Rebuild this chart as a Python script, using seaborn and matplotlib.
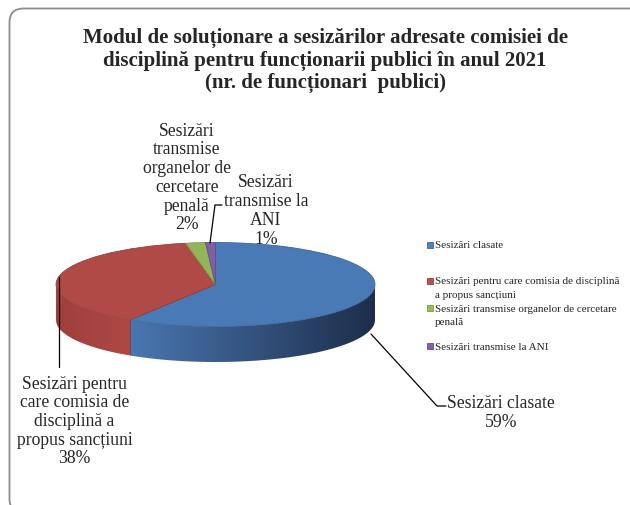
import numpy as np
import matplotlib
matplotlib.use("Agg")
import matplotlib.pyplot as plt
import seaborn as sns
from matplotlib.patches import Polygon, FancyBboxPatch, Rectangle
from matplotlib.lines import Line2D
from matplotlib.transforms import IdentityTransform
from matplotlib.colors import to_rgb

sns.set_theme(style="white")
plt.rcParams['font.family'] = ['Liberation Serif', 'DejaVu Serif']

W, H = 630, 506

# data
categories = [
    "Sesizări clasate",
    "Sesizări pentru care comisia de disciplină a propus sancțiuni",
    "Sesizări transmise organelor de cercetare penală",
    "Sesizări transmise la ANI",
]
shares = [59, 38, 2, 1]
slice_names = [
    "Sesizări clasate",
    "Sesizări pentru\ncare comisia de\ndisciplină a\npropus sancțiuni",
    "Sesizări\ntransmise\norganelor de\ncercetare\npenală",
    "Sesizări\ntransmise la\nANI",
]
legend_lines = [
    ["Sesizări clasate"],
    ["Sesizări pentru care comisia de disciplină", "a propus sancțiuni"],
    ["Sesizări transmise organelor de cercetare", "penală"],
    ["Sesizări transmise la ANI"],
]
title = ("Modul de soluționare a sesizărilor adresate comisiei de\n"
         "disciplină pentru funcționarii publici în anul 2021\n"
         "(nr. de funcționari  publici)")

top_colors = ["#4a7ab5", "#b04a47", "#93b558", "#7c60a1"]
edge_colors = ["#3d6699", "#943c3a", "#7a9a46", "#654d86"]
legend_colors = ["#4f81bd", "#c0504d", "#9bbb59", "#8064a2"]
side_ramps = [("#4a77b1", "#1d2e4a"), ("#9e403d", "#ae4845"),
              ("#7a9a46", "#7a9a46"), ("#654d86", "#654d86")]


def fx(x):
    return x / W


def fy(y):
    return 1 - y / H


fig = plt.figure(figsize=(W / 100, H / 100), dpi=100)

# rounded frame
frame = FancyBboxPatch((9.5, -8), 650, 504.5,
                       boxstyle="round,pad=0,rounding_size=14",
                       transform=IdentityTransform(), facecolor="none",
                       edgecolor="#8c8c8c", linewidth=1.3)
fig.add_artist(frame)

fig.text(fx(325), fy(60.5), title, ha="center", va="center",
         fontsize=15, fontweight="bold", linespacing=1.18)

# pie (3D look: flattened top + shaded side)
left, right, top, bottom = 56, 375, 243.5, 363
ry, depth = 42.0, 35.5
d = depth / ry
ax = fig.add_axes([fx(left), fy(bottom), (right - left) / W, (bottom - top) / H])
wedges, _ = ax.pie(shares, colors=top_colors, startangle=90, counterclock=False,
                   radius=1, wedgeprops=dict(linewidth=0.6))
for w, ec in zip(wedges, edge_colors):
    w.set_edgecolor(ec)
    w.set_clip_on(False)
    w.set_zorder(3)
ax.set_aspect("auto")
ax.set_xlim(-1, 1)
ax.set_ylim(-1 - d, 1)
ax.axis("off")

for i, w in enumerate(wedges):
    ts = np.radians(np.linspace(w.theta1, w.theta2, 400))
    ts = ts[np.sin(ts) <= 1e-9]
    if len(ts) < 2:
        continue
    xs, ys = np.cos(ts), np.sin(ts)
    pts = np.vstack([np.column_stack([xs, ys]),
                     np.column_stack([xs[::-1], ys[::-1] - d])])
    poly = Polygon(pts, closed=True, facecolor="none", edgecolor="none")
    ax.add_patch(poly)
    x0, x1 = xs.min(), xs.max()
    c0, c1 = np.array(to_rgb(side_ramps[i][0])), np.array(to_rgb(side_ramps[i][1]))
    t = np.linspace(0, 1, 256)[:, None]
    grad = (c0 + (c1 - c0) * t)[None, :, :]
    im = ax.imshow(grad, extent=[x0, x1, -1 - d, 0], aspect="auto",
                   interpolation="bilinear", zorder=2)
    im.set_clip_path(poly)

ax.set_xlim(-1, 1)
ax.set_ylim(-1 - d, 1)

# boundary between blue and red side
xb = np.cos(np.radians(wedges[0].theta1))
yb = np.sin(np.radians(wedges[0].theta1))
ax.plot([xb, xb], [yb, yb - d], color="#7a3330", lw=0.5, zorder=2.5, clip_on=False)

# data labels
lab_font = 12.7
label_pos = [(501, 413), (74.5, 421.5), (187, 178), (266, 211)]
for name, val, (x, y) in zip(slice_names, shares, label_pos):
    fig.text(fx(x), fy(y), f"{name}\n{val}%", ha="center", va="center",
             fontsize=lab_font, linespacing=1.13)

leaders = [
    ([371, 437, 446], [335, 407, 407]),
    ([59, 59], [278, 368]),
    ([210, 215, 222], [244, 206, 206]),
]
for xs, ys in leaders:
    fig.add_artist(Line2D([fx(v) for v in xs], [fy(v) for v in ys],
                          transform=fig.transFigure, color="black", lw=0.9))

# legend
legend_y = [246, 282, 309, 347]
for lines, col, ec, y in zip(legend_lines, legend_colors, edge_colors, legend_y):
    fig.add_artist(Rectangle((fx(427), fy(y + 3)), 6 / W, 6 / H,
                             transform=fig.transFigure, facecolor=col,
                             edgecolor=ec, linewidth=0.6))
    for k, line in enumerate(lines):
        fig.text(fx(435), fy(y + 14 * k), line, ha="left", va="center",
                 fontsize=8.0)

fig.savefig("out.png", dpi=100)
